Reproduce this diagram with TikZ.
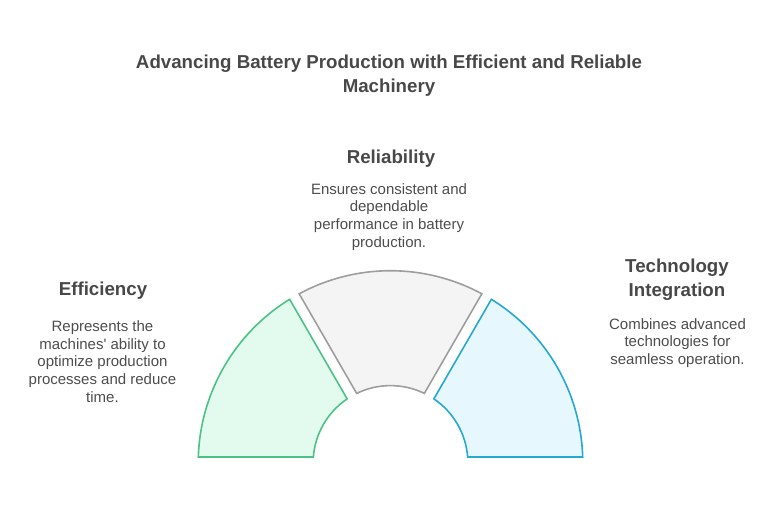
\documentclass[tikz,border=0pt]{standalone}
\usepackage{fontspec}
\setmainfont{Liberation Sans}
\usetikzlibrary{calc}
\definecolor{titlec}{HTML}{484848}
\definecolor{bodyc}{HTML}{4D4D4D}
\definecolor{gstroke}{HTML}{4CC385}
\definecolor{gfill}{HTML}{E3FBEE}
\definecolor{hstroke}{HTML}{9E9E9E}
\definecolor{hfill}{HTML}{F4F4F4}
\definecolor{bstroke}{HTML}{25A9D3}
\definecolor{bfill}{HTML}{E6F7FE}
\tikzset{
  piece/.style={line width=1.6pt, line join=miter},
  ttl/.style={text=titlec, font=\bfseries\fontsize{18.7}{24}\selectfont, align=center, inner sep=0pt},
  head/.style={text=titlec, font=\bfseries\fontsize{18.7}{23.5}\selectfont, align=center, inner sep=0pt},
  body/.style={text=bodyc, font=\fontsize{15}{17.8}\selectfont, align=center, inner sep=0pt}
}
\begin{document}
\begin{tikzpicture}[x=1pt,y=1pt]
\useasboundingbox (0,0) rectangle (776,507);
\coordinate (C) at (390.5,44);
% green piece
\draw[piece, draw=gstroke, fill=gfill] ($(C)+(178.21:192.3)$) arc[start angle=178.21, end angle=121.64, radius=192.3]
  -- ($(C)+(124.07:77.4)$) arc[start angle=124.07, end angle=175.55, radius=77.4] -- cycle;
% gray piece
\draw[piece, draw=hstroke, fill=hfill] ($(C)+(118.36:192.3)$) arc[start angle=118.36, end angle=61.64, radius=192.3]
  -- ($(C)+(64.07:77.4)$) arc[start angle=64.07, end angle=115.93, radius=77.4] -- cycle;
% blue piece
\draw[piece, draw=bstroke, fill=bfill] ($(C)+(58.36:192.3)$) arc[start angle=58.36, end angle=1.79, radius=192.3]
  -- ($(C)+(4.45:77.4)$) arc[start angle=4.45, end angle=55.93, radius=77.4] -- cycle;
% title
\node[ttl] (title) at (389,431.5) {Advancing Battery Production with Efficient and Reliable\\Machinery};
% reliability
\node[head] (relh) at (391,348) {Reliability};
\node[body] (relb) at (389,290) {Ensures consistent and\\dependable\\performance in battery\\production.};
% efficiency
\node[head] (effh) at (103,216.5) {Efficiency};
\node[body] (effb) at (102.5,145.5) {Represents the\\machines\textquotesingle{} ability to\\optimize production\\processes and reduce\\time.};
% technology
\node[head] (tech) at (677,227.5) {Technology\\Integration};
\node[body] (techb) at (677.5,164) {Combines advanced\\technologies for\\seamless operation.};
\end{tikzpicture}
\end{document}
